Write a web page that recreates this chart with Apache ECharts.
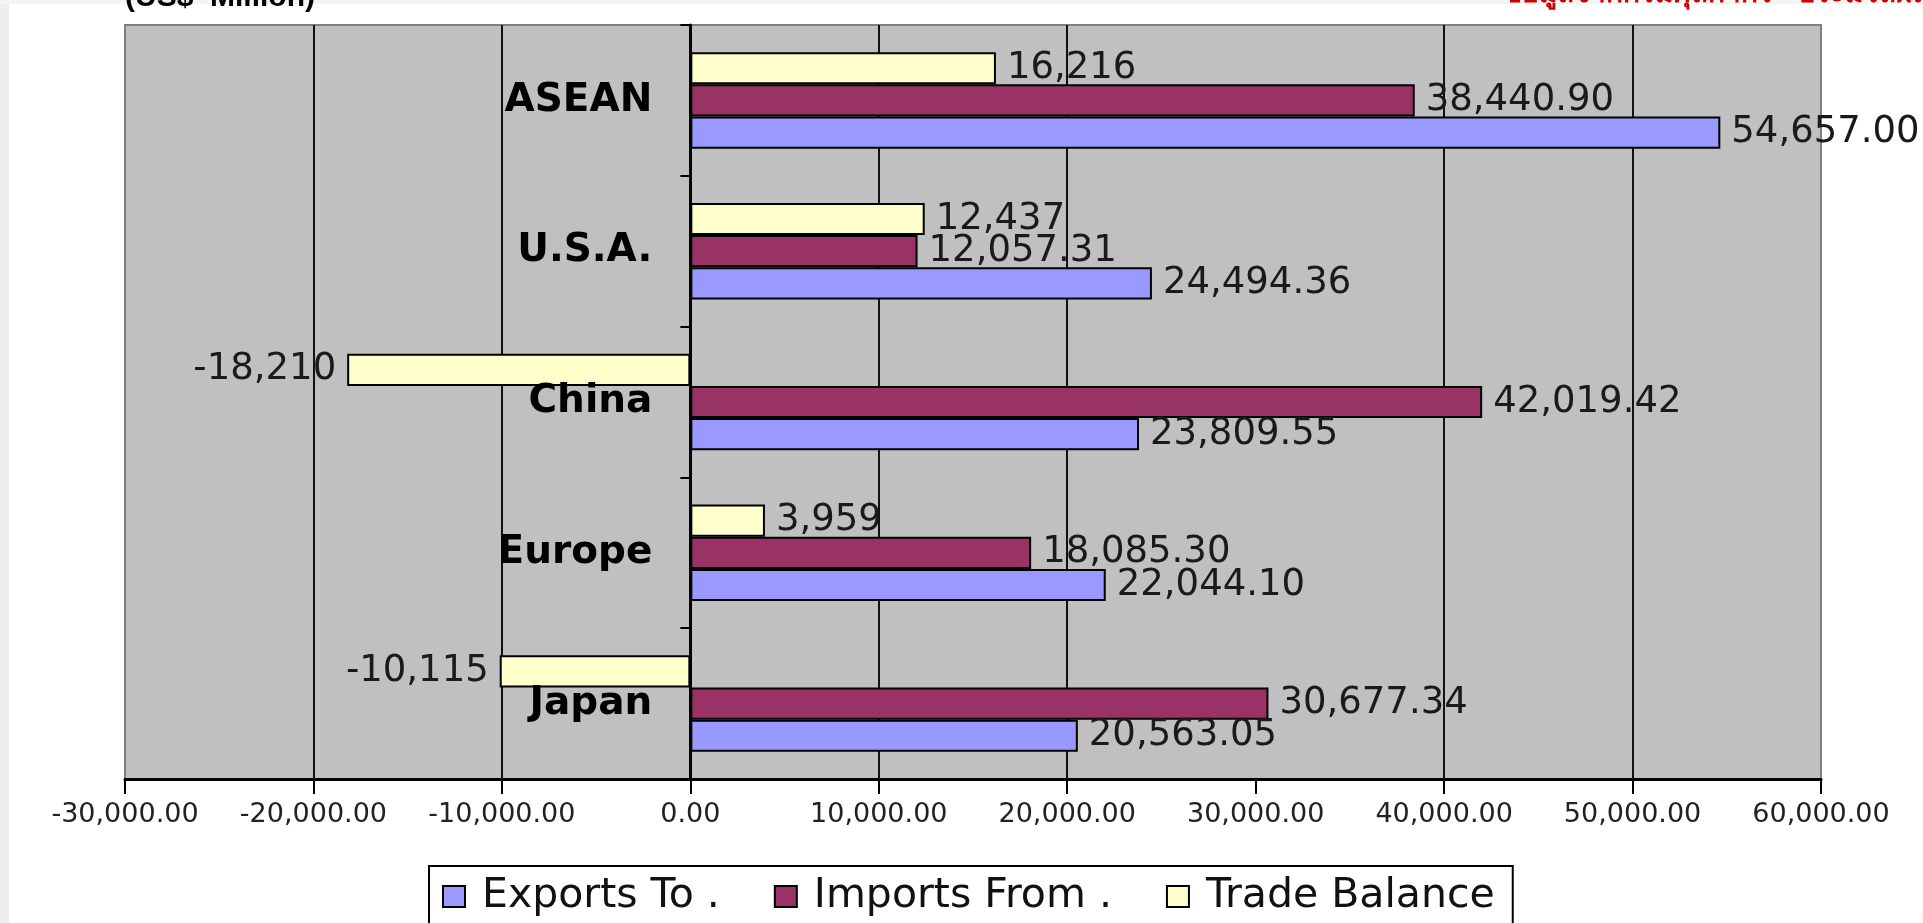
<!DOCTYPE html>
<html>
<head>
<meta charset="utf-8">
<script src="https://cdn.jsdelivr.net/npm/echarts@6/dist/echarts.min.js"></script>
<style>
html,body{margin:0;padding:0;background:#fff;}
#chart{width:1923px;height:923px;}
</style>
</head>
<body>
<div id="chart"></div>
<script>
// Categories listed bottom-to-top (ECharts category y axis grows upward)
const categories = ['Japan', 'Europe', 'China', 'U.S.A.', 'ASEAN'];
const exportsTo = [20563.05, 22044.10, 23809.55, 24494.36, 54657.00];
const importsFrom = [30677.34, 18085.30, 42019.42, 12057.31, 38440.90];
const tradeBalance = [-10115, 3959, -18210, 12437, 16216];
const seriesNames = ['Exports To .', 'Imports From .', 'Trade Balance'];
const xTicks = { min: -30000, max: 60000, interval: 10000 };
// vertical gridlines visible in the original (the 30,000 one is absent there)
const gridLineValues = [-20000, -10000, 10000, 20000, 40000, 50000];
const titleText = '(US$  Million)';
const noteText = 'ข้อมูลจากกรมศุลกากร - ประมวลผลโดย สศอ.';

function fmt(v, d) {
  return v.toLocaleString('en-US', { minimumFractionDigits: d, maximumFractionDigits: d });
}

const labelFont = { fontFamily: 'DejaVu Sans', fontSize: 37, color: '#1a1a1a' };

function makeData(arr) {
  return arr.map(v => ({ value: v, label: { position: v < 0 ? 'left' : 'right' } }));
}

function makeSeries(name, arr, color, decimals, extra) {
  return Object.assign({
    name: name,
    type: 'bar',
    data: makeData(arr),
    barGap: '0%',
    barCategoryGap: '36%',
    z: 3,
    itemStyle: { color: color, borderColor: '#000', borderWidth: 2 },
    label: Object.assign({
      show: true,
      distance: 11,
      formatter: p => fmt(p.value, decimals)
    }, labelFont),
    emphasis: { disabled: true },
    animation: false
  }, extra || {});
}

const chart = echarts.init(document.getElementById('chart'), null, { renderer: 'canvas' });

chart.setOption({
  animation: false,
  backgroundColor: '#ffffff',
  grid: {
    left: 125, right: 102, top: 25, bottom: 144,
    show: true, backgroundColor: '#c0c0c0', borderColor: '#808080', borderWidth: 2,
    containLabel: false,
    outerBoundsMode: 'none'
  },
  xAxis: {
    type: 'value',
    min: xTicks.min, max: xTicks.max, interval: xTicks.interval,
    axisLine: { show: true, lineStyle: { color: '#000', width: 3 } },
    axisTick: { show: true, length: 15, lineStyle: { color: '#000', width: 2 } },
    axisLabel: {
      margin: 22,
      fontFamily: 'DejaVu Sans', fontSize: 27, color: '#222',
      formatter: v => fmt(v, 2)
    },
    splitLine: { show: false }
  },
  yAxis: {
    type: 'category',
    data: categories,
    axisLine: { show: true, onZero: false, lineStyle: { color: '#000', width: 3 } },
    axisTick: { show: true, length: 10, lineStyle: { color: '#000', width: 2 } },
    axisLabel: {
      margin: 38,
      fontFamily: 'DejaVu Sans', fontWeight: 'bold', fontSize: 39, color: '#000'
    },
    splitLine: { show: false },
    z: 4
  },
  legend: {
    data: seriesNames,
    left: 429, top: 866,
    orient: 'horizontal',
    padding: [10, 18, 30, 13],
    itemGap: 54,
    itemWidth: 22, itemHeight: 21,
    icon: 'rect',
    backgroundColor: '#ffffff',
    borderColor: '#000', borderWidth: 2,
    itemStyle: { borderColor: '#000', borderWidth: 2 },
    textStyle: { fontFamily: 'DejaVu Sans', fontSize: 41, color: '#111', padding: [0, 0, 0, 12] },
    selectedMode: false
  },
  graphic: [
    { type: 'rect', left: 0, top: 0, shape: { x: 0, y: 0, width: 9, height: 923 }, style: { fill: '#eeeeee' }, silent: true },
    { type: 'rect', left: 0, top: 0, shape: { x: 0, y: 0, width: 1923, height: 4 }, style: { fill: '#f4f4f4' }, silent: true },
    { type: 'text', x: 125, y: -2, silent: true,
      style: { text: titleText, font: 'bold 30px "Liberation Sans", Arial, sans-serif', fill: '#000', verticalAlign: 'middle', align: 'left' } },
    { type: 'text', x: 1503, y: -6, silent: true,
      style: { text: noteText, font: 'bold 28px "Noto Sans", "DejaVu Sans", sans-serif', fill: '#cc0000', verticalAlign: 'middle', align: 'left' } }
  ],
  series: [
    makeSeries(seriesNames[2], tradeBalance, '#ffffcc', 0, {
      markLine: {
        silent: true, symbol: 'none', z: 1, animation: false,
        label: { show: false },
        lineStyle: { color: '#111', width: 2, type: 'solid' },
        data: gridLineValues.map(v => ({ xAxis: v }))
      }
    }),
    makeSeries(seriesNames[1], importsFrom, '#993366', 2),
    makeSeries(seriesNames[0], exportsTo, '#9999ff', 2)
  ]
});

// place the category axis (line, ticks, labels) on the value 0 position
const gridRect = chart.getModel().getComponent('grid', 0).coordinateSystem.getRect();
const zeroX = chart.convertToPixel({ xAxisIndex: 0 }, 0);
chart.setOption({ yAxis: { offset: -(zeroX - gridRect.x) } });
</script>
</body>
</html>
